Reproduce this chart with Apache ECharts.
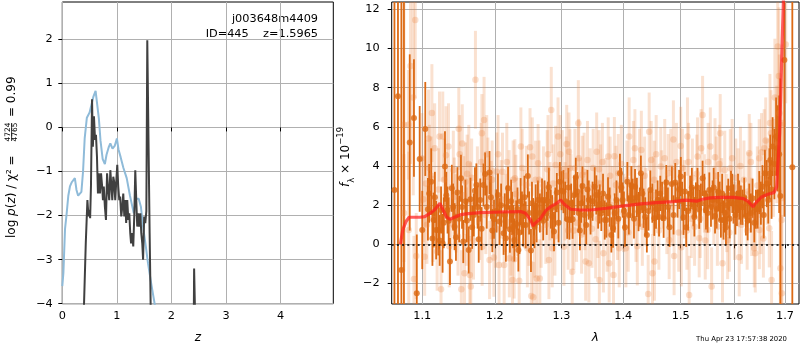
<!DOCTYPE html>
<html><head><meta charset="utf-8">
<script src="https://cdn.jsdelivr.net/npm/echarts@6/dist/echarts.min.js"></script>
<style>html,body{margin:0;padding:0;background:#fff}#c{width:800px;height:350px}</style>
</head><body><div id="c"></div>
<script>
// ---------- tick labels / ranges ----------
const zTicks = [0, 1, 2, 3, 4];
const logpTicks = [-4, -3, -2, -1, 0, 1, 2];
const lamTicks = [1.1, 1.2, 1.3, 1.4, 1.5, 1.6, 1.7];
const fluxTicks = [-2, 0, 2, 4, 6, 8, 10, 12];
const zRange = [0, 4.965];
const logpRange = [-4, 2.846];
const lamRange = [1.0604, 1.7288];
const fluxRange = [-3.049, 12.373];

// ---------- left panel: log p(z) ----------
const pzPrior = [[0,-3.6],[0.02,-3.3],[0.05,-2.3],[0.08,-1.95],[0.11,-1.55],[0.14,-1.34],[0.17,-1.25],[0.2,-1.23],[0.23,-1.15],[0.26,-1.42],[0.29,-1.55],[0.32,-1.57],[0.35,-1.46],[0.38,-1.0],[0.41,-0.25],[0.45,0.22],[0.5,0.34],[0.53,0.36],[0.57,0.7],[0.61,0.83],[0.64,0.82],[0.67,0.2],[0.7,-0.3],[0.74,-0.72],[0.78,-0.83],[0.81,-0.62],[0.85,-0.45],[0.88,-0.36],[0.92,-0.48],[0.96,-0.42],[1.0,-0.25],[1.03,-0.5],[1.07,-0.68],[1.12,-0.92],[1.18,-1.15],[1.24,-1.55],[1.31,-1.95],[1.35,-1.62],[1.4,-1.62],[1.44,-1.8],[1.48,-2.25],[1.53,-2.7],[1.57,-3.08],[1.63,-3.55],[1.69,-3.99],[1.75,-4.4]];
const pzFit = [[0.375,-5],[0.43,-2.63],[0.46,-1.65],[0.48,-2.02],[0.495,-1.87],[0.51,-2.06],[0.525,-1.34],[0.545,0.64],[0.56,-0.44],[0.58,0.25],[0.6,-0.28],[0.617,-0.17],[0.635,-0.66],[0.653,-1.5],[0.67,-1.04],[0.69,-1.5],[0.71,-1.04],[0.73,-1.34],[0.745,-1.65],[0.76,-1.34],[0.78,-1.8],[0.8,-2.1],[0.82,-1.04],[0.836,-1.34],[0.86,-1.65],[0.88,-0.97],[0.9,-1.34],[0.916,-1.65],[0.934,-1.12],[0.95,-1.23],[0.97,-1.65],[0.99,-1.2],[1.007,-0.85],[1.025,-1.34],[1.044,-1.65],[1.06,-1.57],[1.08,-2.02],[1.1,-1.8],[1.117,-1.5],[1.136,-2.02],[1.154,-1.65],[1.17,-2.17],[1.19,-1.65],[1.21,-2.1],[1.227,-1.95],[1.245,-2.4],[1.26,-2.63],[1.28,-2.4],[1.3,-2.7],[1.32,-1.95],[1.337,-0.97],[1.355,-1.65],[1.373,-2.25],[1.39,-1.95],[1.41,-2.25],[1.43,-1.95],[1.447,-2.4],[1.465,-2.63],[1.48,-3.0],[1.5,-2.02],[1.52,-2.17],[1.54,-1.9],[1.557,1.98],[1.585,1.98],[1.6,-2.4],[1.63,-5],[2.405,-5],[2.415,-3.2],[2.435,-3.2],[2.445,-5],[4.965,-5]];

// ---------- right panel: spectrum [lambda, flux, err] ----------
const specDark = [
[1.0639,2.77,30],[1.0684,7.56,30],[1.0728,-1.31,30],[1.0761,-5,30],
[1.0836,5.2,4.5],[1.0891,6.45,3.0],[1.0928,-2.5,3.0],[1.0966,4.36,2.7],[1.1,0.73,2.0],[1.104,5.89,2.4],[1.1075,1.79,1.6],[1.1119,3.2,1.7],[1.1152,1.24,1.4],[1.1185,0.73,1.5],[1.1214,0.73,1.3],[1.1251,1.75,1.2],[1.1272,0.05,1.5],[1.1304,3.97,1.8],[1.1339,1.75,1.2],[1.1372,-0.88,1.2],[1.1397,2.86,1.2],[1.1454,0.36,1.2],[1.1474,2.64,1.3],[1.1523,3.37,1.2],[1.1555,0.14,1.1],[1.163,-0.29,1.2],[1.1679,0.87,1.1],[1.1718,2.74,1.2],[1.1738,3.03,1.1],[1.1771,0.26,1.2],[1.1793,2.26,1.1],[1.1838,3.03,1.1],[1.1862,3.59,1.1],[1.1925,3.66,1.1],[1.1989,1.28,1.0],
[1.2046,2.52,1.1],[1.2069,1.16,1.2],[1.2128,0.56,1.1],[1.2161,0.31,1.2],[1.2193,2.86,1.1],[1.222,0.77,1.2],[1.2252,1.58,1.1],[1.2285,0.22,1.1],[1.2313,1.04,1.2],[1.2345,-0.29,1.1],[1.2378,2.18,1.2],[1.2416,0.99,1.1],[1.2454,0.99,1.2],[1.2486,3.49,1.1],[1.2533,-0.32,1.1],[1.2567,1.16,1.2],[1.2604,1.96,1.1],[1.2638,2.26,1.0],[1.27,2.26,1.1],[1.2739,2.26,1.0],[1.2772,1.58,1.1],[1.2805,2.91,1.0],[1.2855,1.41,1.1],[1.2884,0.65,1.0],[1.2928,2.64,1.0],[1.3002,2.74,1.0],[1.3031,2.69,1.1],[1.3091,1.28,1.0],[1.3125,1.24,1.0],[1.3175,1.28,1.0],[1.3226,3.42,1.0],[1.325,2.69,1.0],[1.3291,0.7,1.0],[1.3332,2.98,1.0],[1.3393,0.99,1.0],[1.3433,2.26,1.0],
[1.3529,2.94,1.0],[1.3555,2.52,1.0],[1.3611,2.06,1.0],[1.3637,1.58,0.9],[1.3693,1.24,1.0],[1.372,1.24,0.9],[1.3747,2.43,1.0],[1.3802,0.48,0.9],[1.383,0.82,1.0],[1.3887,2.26,1.0],[1.3945,3.63,1.0],[1.399,2.26,0.9],[1.403,0.87,1.0],[1.407,3.2,1.0],[1.4116,2.26,0.9],[1.416,2.35,1.0],[1.42,2.94,0.9],[1.426,1.67,1.0],[1.43,3.63,0.9],[1.4346,1.84,1.0],[1.4403,0.48,0.9],[1.4463,2.77,1.0],[1.4532,1.33,0.9],[1.459,2.26,1.0],[1.4637,2.6,0.9],[1.4696,1.33,1.0],[1.4743,3.15,0.9],[1.48,0.87,1.0],[1.4842,3.08,0.9],[1.4902,3.15,1.0],[1.4943,2.26,0.9],[1.5002,3.46,1.0],[1.505,1.38,0.9],[1.5099,0.87,1.0],[1.5171,2.6,0.9],[1.523,1.92,1.0],
[1.5276,2.26,0.9],[1.5337,1.79,1.0],[1.5399,3.37,0.9],[1.5462,1.75,1.0],[1.5524,2.77,0.9],[1.5586,2.26,1.0],[1.5631,1.45,0.9],[1.569,2.69,1.0],[1.5741,1.24,0.9],[1.5791,1.24,1.0],[1.5837,0.87,0.9],[1.5881,2.35,1.0],[1.5933,2.86,0.9],[1.5983,2.06,1.0],[1.6047,1.84,0.9],[1.6091,2.26,1.0],[1.6155,1.89,0.9],[1.6221,1.45,1.0],[1.6286,2.1,1.0],[1.6351,2.35,1.0],[1.6417,1.79,1.0],[1.6482,2.64,1.1],[1.6546,2.94,1.1],[1.6595,3.63,1.2],[1.6662,2.26,1.2],[1.6702,4.3,1.3],[1.6749,4.99,1.5],[1.6819,5.5,2.0],[1.6852,4.9,2.2],[1.6905,2.47,6.0],[1.6987,9.41,8.0],[1.715,3.93,30]
];
const specDarkFill = [
[1.1092,2.6,1.5],[1.1135,0.3,1.4],[1.1168,2.4,1.3],[1.1232,0.2,1.3],[1.1288,1.1,1.3],[1.1322,2.5,1.2],[1.1355,1.2,1.2],[1.1415,1.9,1.2],[1.1435,0.9,1.2],[1.1498,1.3,1.2],[1.1538,1.9,1.1],[1.1585,2.2,1.1],[1.1605,1.2,1.1],[1.1655,2.3,1.1],[1.1702,1.5,1.1],[1.1755,1.9,1.1],[1.1812,0.8,1.1],[1.1885,1.9,1.1],[1.1945,2.4,1.1],[1.1965,0.7,1.1],
[1.2025,1.7,1.1],[1.2092,2.0,1.1],[1.2145,1.5,1.1],[1.2175,1.9,1.1],[1.2238,2.2,1.1],[1.2268,0.9,1.1],[1.2332,1.8,1.1],[1.2362,0.6,1.1],[1.2398,1.6,1.1],[1.2435,2.4,1.1],[1.2505,1.6,1.1],[1.2548,2.1,1.1],[1.2585,0.9,1.1],[1.2618,1.1,1.0],[1.2668,1.6,1.0],[1.2718,1.2,1.0],[1.2788,2.2,1.0],[1.2835,1.8,1.0],[1.2905,1.9,1.0],[1.2955,1.1,1.0],[1.2975,3.2,1.0],[1.3058,2.2,1.0],[1.3108,2.9,1.0],[1.3152,2.1,1.0],[1.3198,2.5,1.0],[1.3272,1.6,1.0],[1.3312,2.1,1.0],[1.3362,1.5,1.0],[1.3412,2.8,1.0],[1.3462,1.5,1.0],[1.3495,2.2,1.0],
[1.3585,1.8,1.0],[1.3665,2.6,1.0],[1.3775,1.9,1.0],[1.3858,1.6,1.0],[1.3918,1.3,1.0],[1.3968,2.9,1.0],[1.4012,1.7,1.0],[1.4095,1.5,1.0],[1.4138,3.0,1.0],[1.4182,1.3,1.0],[1.4232,2.4,1.0],[1.4282,1.9,1.0],[1.4325,2.6,1.0],[1.4375,1.4,1.0],[1.4432,1.7,1.0],[1.4498,2.1,1.0],[1.4562,1.8,1.0],[1.4615,1.4,1.0],[1.4668,2.2,1.0],[1.4722,2.3,1.0],[1.4772,1.9,1.0],[1.4872,1.5,1.0],[1.4972,2.8,1.0],[1.5025,2.2,1.0],[1.5075,2.7,1.0],[1.5135,1.7,1.0],[1.5202,2.9,1.0],[1.5248,1.4,1.0],
[1.5305,2.9,1.0],[1.5368,2.1,1.0],[1.5432,2.6,1.0],[1.5492,1.6,1.0],[1.5555,1.9,1.0],[1.5605,2.9,1.0],[1.5662,1.8,1.0],[1.5718,2.2,1.0],[1.5765,2.6,1.0],[1.5815,1.6,1.0],[1.5858,2.0,1.0],[1.5908,1.3,1.0],[1.5958,2.6,1.0],[1.6018,1.5,1.0],[1.6068,2.6,1.0],[1.6122,2.0,1.0],[1.6188,2.4,1.0],[1.6255,1.2,1.0],[1.6318,1.6,1.0],[1.6385,1.1,1.0],[1.6452,1.8,1.0],[1.6515,2.1,1.1],[1.6572,1.5,1.2],[1.6632,3.1,1.2],[1.6685,3.6,1.3],[1.6728,2.8,1.5],[1.6785,4.1,1.8],[1.6882,4.6,3]
];
const specLight = [
[1.0761,6.1,7],[1.0761,1.6,3],[1.0818,6.1,2.8],[1.0823,0.73,4],[1.0846,9.1,5],[1.0882,7.5,5],[1.0891,-1.77,2.2],[1.0908,11.45,4],[1.0921,-0.6,2.2],[1.1032,-0.63,2],[1.1048,3.1,2.2],[1.1062,1.0,2],[1.1084,5.4,2.5],[1.1119,3.5,2],[1.1128,6.7,2.5],[1.1198,-0.37,2],[1.123,5.5,2.3],[1.1251,-2.3,2],[1.1274,5.5,2.3],[1.1318,4.55,2.5],[1.1385,1.07,2],[1.1432,2.43,2],[1.1454,1.58,2],[1.1505,4.6,2],[1.1528,-2.3,2],[1.1541,5.15,2],[1.1572,-1.48,2],[1.1586,3.2,2],[1.1609,3.6,2],[1.1646,-1.57,2],[1.1654,2.18,2],[1.166,-2.16,2],[1.1725,8.4,2.5],[1.1816,5.67,2],[1.182,-0.12,2],[1.1847,6.35,2.2],[1.1902,3.45,2],[1.1925,-0.8,2],[1.1948,2.26,2],[1.1987,-0.68,2],
[1.2029,3.71,2],[1.2062,-1.06,2],[1.2136,-1.06,2],[1.2209,2.81,2],[1.2212,-0.71,2],[1.2258,-1.82,2],[1.2283,-0.77,2],[1.2293,3.37,2],[1.2308,2.57,2],[1.2357,-1.86,2],[1.2382,4.99,2],[1.2464,3.03,2],[1.2479,-0.2,2],[1.2519,4.95,2],[1.2538,-2.64,1.8],[1.2553,4.48,2],[1.2568,-2.7,1.8],[1.2602,3.29,2],[1.2618,-1.75,2],[1.2641,4.14,2],[1.2667,-1.75,2],[1.278,3.83,2],[1.2806,-0.8,2],[1.2842,6.86,2.2],[1.2857,-0.2,2],[1.291,4.05,2],[1.2947,5.5,2],[1.3012,3.83,2],[1.3039,-0.12,2],[1.3082,5.12,2],[1.3118,4.73,2],[1.3133,3.88,2],[1.3169,-1.4,2],[1.3196,0.7,2],[1.3266,6.18,2.2],[1.3304,2.43,2],[1.3329,3.54,2],[1.3383,-0.88,2],[1.3435,-0.97,2],
[1.3545,0.26,2],[1.3561,4.73,2],[1.3599,3.83,2],[1.3605,-1.82,2],[1.3671,-0.46,2],[1.375,4.48,2],[1.3766,-0.97,2],[1.3838,-1.57,2],[1.3878,3.03,2],[1.3917,3.63,2],[1.3933,-0.2,2],[1.4045,-0.2,2],[1.41,5.5,2],[1.4172,4.3,2],[1.4239,-0.1,2],[1.4308,4.82,2],[1.4426,-2.54,2],[1.4443,5.75,2],[1.4501,-1.48,2],[1.4531,3.29,2],[1.4535,-0.88,2],[1.4645,3.97,2],[1.4777,3.63,2],[1.4794,0.22,2],[1.4869,5.35,2],[1.4882,-0.6,2],[1.5,5.02,2],[1.5011,-0.15,2],[1.5122,5.5,2],[1.5153,-2.59,2],
[1.5306,4.48,2],[1.5337,0.31,2],[1.5399,6.6,2],[1.5493,0.73,2],[1.5543,4.99,2],[1.5567,-2.16,2],[1.5631,4.44,2],[1.5728,5.67,2],[1.5772,-0.97,2],[1.5869,0.22,2],[1.592,3.88,2],[1.6091,-0.66,2],[1.6286,4.65,2],[1.6384,-0.2,2],[1.6404,-0.46,2],[1.6482,4.39,2],[1.6485,0.73,2],[1.6581,4.9,2],[1.6682,0.82,2],[1.6716,5.67,2.2],[1.6728,-1.82,2.5],[1.6852,10.1,3],[1.6885,6.69,3],[1.6905,-1.22,4],[1.6931,1.24,5],[1.6935,-2.5,4],[1.7015,10.2,3]
];
const specLightFill = [
[1.0995,4.4,2.3],[1.1015,2.3,2.2],[1.1095,3.9,2.2],[1.1142,1.3,2.2],[1.1165,4.9,2.3],[1.1215,2.8,2.1],[1.1292,3.3,2.1],[1.1352,5.0,2.2],[1.1362,-0.1,2.1],[1.1418,3.8,2.0],[1.1482,0.4,2.0],[1.1493,5.9,2.1],[1.1562,2.5,2.0],[1.1598,0.9,2.0],[1.1632,4.1,2.0],[1.1672,3.4,2.0],[1.1698,0.2,2.0],[1.1752,3.0,2.0],[1.1783,1.2,2.0],[1.1806,4.2,2.0],[1.1872,1.5,2.0],[1.1885,4.6,2.0],[1.1962,3.3,2.0],[1.1978,1.9,2.0],
[1.2012,0.8,2.0],[1.2048,4.6,2.0],[1.2095,2.3,2.0],[1.2112,3.7,2.0],[1.2155,1.6,2.0],[1.2175,4.2,2.0],[1.2236,0.4,2.0],[1.2268,3.3,2.0],[1.2325,1.4,2.0],[1.2402,3.9,2.0],[1.2435,1.8,2.0],[1.2502,0.9,2.0],[1.2585,0.3,2.0],[1.2655,3.3,2.0],[1.2688,0.8,2.0],[1.2722,3.0,2.0],[1.2758,1.0,2.0],[1.2792,4.6,2.0],[1.2822,2.2,2.0],[1.2872,3.1,2.0],[1.2898,0.4,2.0],[1.2965,2.0,2.0],[1.2982,4.6,2.0],[1.3055,2.2,2.0],[1.3072,3.5,2.0],[1.3105,0.7,2.0],[1.3148,2.6,2.0],[1.3212,3.9,2.0],[1.3238,1.1,2.0],[1.3272,4.4,2.0],[1.3318,0.5,2.0],[1.3358,3.7,2.0],[1.3372,1.7,2.0],[1.3412,4.3,2.0],[1.3455,2.9,2.0],[1.3485,0.8,2.0],[1.3505,3.9,2.0],
[1.3582,1.3,2.0],[1.3625,3.1,2.0],[1.3655,4.2,2.0],[1.3705,2.4,2.0],[1.3732,0.6,2.0],[1.3782,3.5,2.0],[1.3815,2.0,2.0],[1.3852,4.5,2.0],[1.3905,1.2,2.0],[1.3968,4.1,2.0],[1.4008,1.6,2.0],[1.4062,3.3,2.0],[1.4085,0.6,2.0],[1.4135,2.0,2.0],[1.4198,4.9,2.0],[1.4215,1.1,2.0],[1.4278,3.9,2.0],[1.4325,0.9,2.0],[1.4365,3.5,2.0],[1.4385,1.9,2.0],[1.4478,4.3,2.0],[1.4515,2.5,2.0],[1.4565,4.6,2.0],[1.4612,0.7,2.0],[1.4662,2.8,2.0],[1.4715,4.4,2.0],[1.4752,1.5,2.0],[1.4822,3.9,2.0],[1.4855,1.9,2.0],[1.4922,4.2,2.0],[1.4965,0.6,2.0],[1.5032,3.9,2.0],[1.5068,2.3,2.0],[1.5112,0.7,2.0],[1.5142,4.2,2.0],[1.5192,1.3,2.0],[1.5212,3.4,2.0],[1.5252,0.9,2.0],
[1.5292,3.6,2.0],[1.5355,1.3,2.0],[1.5372,4.9,2.0],[1.5432,2.6,2.0],[1.5448,0.2,2.0],[1.5502,4.2,2.0],[1.5608,2.0,2.0],[1.5655,3.5,2.0],[1.5675,0.9,2.0],[1.5712,4.1,2.0],[1.5755,2.4,2.0],[1.5815,3.8,2.0],[1.5852,1.6,2.0],[1.5902,0.6,2.0],[1.5955,4.4,2.0],[1.6002,1.2,2.0],[1.6025,3.4,2.0],[1.6068,2.9,2.0],[1.6115,4.0,2.0],[1.6135,1.0,2.0],[1.6182,3.3,2.0],[1.6245,0.7,2.0],[1.6262,2.7,2.0],[1.6318,4.2,2.0],[1.6335,1.4,2.0],[1.6445,3.0,2.0],[1.6515,1.5,2.0],[1.6528,4.7,2.0],[1.6565,0.3,2.0],[1.6612,5.3,2.2],[1.6642,3.2,2.2],[1.6695,6.2,2.5],[1.6765,3.9,2.5],[1.6795,7.5,3],[1.6835,5.1,3],[1.6875,8.6,3.5],[1.6955,6.2,4]
];
const modelLam = [1.0716,1.0745,1.0787,1.0829,1.097,1.1033,1.1102,1.1162,1.1236,1.1278,1.1323,1.137,1.1434,1.1509,1.1592,1.179,1.2086,1.2378,1.2452,1.2528,1.2562,1.2595,1.2681,1.2757,1.2834,1.2911,1.2988,1.3039,1.3143,1.33,1.3461,1.3721,1.401,1.4294,1.4575,1.4862,1.5098,1.529,1.5396,1.5538,1.5726,1.598,1.6175,1.627,1.6358,1.6436,1.6536,1.667,1.6777,1.6831,1.6891,1.6937,1.6969,1.699];
const modelFlux = [0,0.73,1.16,1.38,1.38,1.41,1.58,1.75,2.09,1.75,1.41,1.28,1.38,1.5,1.55,1.62,1.65,1.67,1.58,1.24,0.94,1.07,1.33,1.72,1.92,2.06,2.26,2.06,1.79,1.75,1.75,1.84,1.96,2.06,2.13,2.18,2.26,2.2,2.3,2.37,2.4,2.4,2.33,2.18,1.92,2.18,2.43,2.57,2.64,2.94,5.67,9.92,12.5,25];

// ---------- build chart ----------
const L = v => Math.log10(v);
const minus = v => String(v).replace('-', '\u2212');
const FONT = 'DejaVu Sans';
const DARK = '#dc6a14';

function errBar(w, color) {
  return function (params, api) {
    const x = api.value(0), y = api.value(1), e = api.value(2);
    const a = api.coord([x, y + e]), b = api.coord([x, y - e]);
    return { type: 'rect', shape: { x: a[0] - w / 2, y: a[1], width: w, height: b[1] - a[1] }, style: { fill: color } };
  };
}
const toXY = arr => arr.map(d => [L(d[0]), d[1], d[2]]);
const lightAll = toXY(specLight.concat(specLightFill));
const darkAll = toXY(specDark.concat(specDarkFill));

const axisCommon = (ticks, fmt, margin) => ({
  type: 'value',
  axisLine: { show: false },
  axisTick: { show: true, length: 4, customValues: ticks, lineStyle: { color: '#000', width: 1 } },
  axisLabel: { customValues: ticks, color: '#000', fontFamily: FONT, fontSize: 11.3, margin: margin, formatter: fmt },
  splitLine: { show: true, lineStyle: { color: '#b0b0b0', width: 1 } }
});

const chart = echarts.init(document.getElementById('c'), null, { renderer: 'canvas' });
chart.setOption({
  animation: false,
  backgroundColor: '#fff',
  grid: [
    { left: 62.3, top: 2, width: 271, height: 301.7, show: true, borderColor: '#000', borderWidth: 1, backgroundColor: 'transparent' },
    { left: 391.7, top: 2, width: 407.3, height: 302, show: true, borderColor: '#000', borderWidth: 1, backgroundColor: 'transparent' }
  ],
  xAxis: [
    Object.assign(axisCommon(zTicks, v => minus(v), 7), { gridIndex: 0, min: zRange[0], max: zRange[1],
      name: 'z', nameLocation: 'middle', nameGap: 28, nameTextStyle: { fontFamily: FONT, fontStyle: 'italic', fontSize: 12, color: '#000' } }),
    Object.assign(axisCommon(lamTicks.map(L), v => Math.pow(10, v).toFixed(1), 7), { gridIndex: 1, min: L(lamRange[0]), max: L(lamRange[1]),
      name: 'λ', nameLocation: 'middle', nameGap: 28, nameTextStyle: { fontFamily: FONT, fontStyle: 'italic', fontSize: 12, color: '#000' } })
  ],
  yAxis: [
    Object.assign(axisCommon(logpTicks, v => minus(v), 9.5), { gridIndex: 0, min: logpRange[0], max: logpRange[1] }),
    Object.assign(axisCommon(fluxTicks, v => minus(v), 12), { gridIndex: 1, min: fluxRange[0], max: fluxRange[1] })
  ],
  series: [
    { type: 'line', xAxisIndex: 0, yAxisIndex: 0, data: pzPrior, showSymbol: false, silent: true,
      lineStyle: { color: '#8fbbd9', width: 2 } },
    { type: 'line', xAxisIndex: 0, yAxisIndex: 0, data: pzFit, showSymbol: false, silent: true,
      lineStyle: { color: '#404040', width: 2 } },
    { type: 'custom', xAxisIndex: 1, yAxisIndex: 1, data: lightAll, clip: true, silent: true,
      encode: { x: 0, y: 1 }, renderItem: errBar(3, 'rgba(236,130,60,0.24)') },
    { type: 'scatter', xAxisIndex: 1, yAxisIndex: 1, data: lightAll, symbolSize: 6.5, silent: true,
      encode: { x: 0, y: 1 }, itemStyle: { color: 'rgba(236,130,60,0.32)' } },
    { type: 'custom', xAxisIndex: 1, yAxisIndex: 1, data: darkAll, clip: true, silent: true,
      encode: { x: 0, y: 1 }, renderItem: errBar(1.8, DARK) },
    { type: 'scatter', xAxisIndex: 1, yAxisIndex: 1, data: darkAll, symbolSize: 6, silent: true,
      encode: { x: 0, y: 1 }, itemStyle: { color: DARK } },
    { type: 'line', xAxisIndex: 1, yAxisIndex: 1, data: modelLam.map((l, i) => [L(l), modelFlux[i]]), showSymbol: false, silent: true,
      lineStyle: { color: 'rgba(255,30,30,0.72)', width: 3.2 },
      markLine: { silent: true, symbol: ['none', 'none'], label: { show: false },
        lineStyle: { color: '#000', type: [2, 3.2], width: 1.6 }, data: [{ yAxis: 0 }] } }
  ],
  graphic: [
    { type: 'text', x: 318, y: 19, style: { text: 'j003648m4409', textAlign: 'right', textVerticalAlign: 'middle', font: '11.3px "DejaVu Sans"', fill: '#000' } },
    { type: 'text', x: 318, y: 34, style: { text: 'ID=445    z=1.5965', textAlign: 'right', textVerticalAlign: 'middle', font: '11.3px "DejaVu Sans"', fill: '#000' } },
    { type: 'text', x: 787, y: 339.5, style: { text: 'Thu Apr 23 17:57:38 2020', textAlign: 'right', textVerticalAlign: 'middle', font: '6.9px "DejaVu Sans"', fill: '#000' } },
    { type: 'group', x: 12, y: 238, rotation: Math.PI / 2, children: [
      { type: 'text', x: 0, y: 0, style: { text: '{n|log }{i|p}{n|(}{i|z}{n|) / χ² =}', textAlign: 'left', textVerticalAlign: 'middle', fill: '#000',
        rich: { n: { fontFamily: FONT, fontSize: 12 }, i: { fontFamily: FONT, fontSize: 12, fontStyle: 'italic' } } } },
      { type: 'text', x: 106, y: -3.6, style: { text: '4724', textAlign: 'center', textVerticalAlign: 'middle', font: '7.5px "DejaVu Sans"', fill: '#000' } },
      { type: 'line', shape: { x1: 97, y1: -0.4, x2: 115, y2: -0.4 }, style: { stroke: '#000', lineWidth: 0.8 } },
      { type: 'text', x: 106, y: 3, style: { text: '4765', textAlign: 'center', textVerticalAlign: 'middle', font: '7.5px "DejaVu Sans"', fill: '#000' } },
      { type: 'text', x: 121, y: 0, style: { text: '= 0.99', textAlign: 'left', textVerticalAlign: 'middle', font: '12px "DejaVu Sans"', fill: '#000' } }
    ] },
    { type: 'group', x: 346, y: 187, rotation: Math.PI / 2, children: [
      { type: 'text', x: 0, y: 0, style: { text: '{i|f}{sub|λ}{n| × 10}{sup|−19}', textAlign: 'left', textVerticalAlign: 'middle', fill: '#000',
        rich: { n: { fontFamily: FONT, fontSize: 12, lineHeight: 20 }, i: { fontFamily: FONT, fontSize: 12, fontStyle: 'italic', lineHeight: 20 },
          sub: { fontFamily: FONT, fontSize: 8.5, verticalAlign: 'bottom', lineHeight: 20 }, sup: { fontFamily: FONT, fontSize: 8.5, verticalAlign: 'top', lineHeight: 20 } } } }
    ] }
  ]
});
</script>
</body></html>
